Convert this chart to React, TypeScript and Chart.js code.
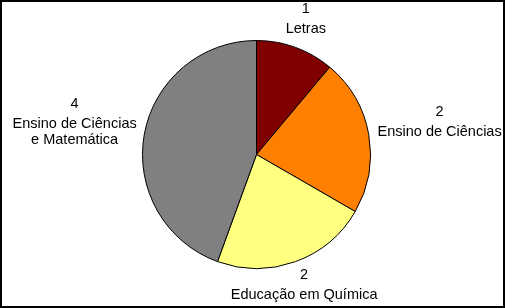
import React, { useEffect, useRef } from "react";
import { Chart, registerables } from "chart.js";

Chart.register(...registerables);

const categories: string[][] = [
  ["Letras"],
  ["Ensino de Ciências"],
  ["Educação em Química"],
  ["Ensino de Ciências", "e Matemática"],
];
const values: number[] = [1, 2, 2, 4];
const colors: string[] = ["#800000", "#FF8000", "#FFFF80", "#808080"];

const FONT = '14.5px "Liberation Sans", Arial, sans-serif';
const GAP = 8;
const VALUE_GAP = 20;
const LINE_H = 16;
const HALF_H = 7;

const labelPlugin = {
  id: "excelLabels",
  afterDatasetsDraw(chart: any) {
    const ctx = chart.ctx as CanvasRenderingContext2D;
    const meta = chart.getDatasetMeta(0);
    ctx.save();
    ctx.font = FONT;
    ctx.fillStyle = "#000";
    ctx.textAlign = "center";
    ctx.textBaseline = "middle";
    meta.data.forEach((arc: any, i: number) => {
      const { x, y, startAngle, endAngle, outerRadius } = arc.getProps(
        ["x", "y", "startAngle", "endAngle", "outerRadius"],
        true
      );
      const mid = (startAngle + endAngle) / 2;
      const dx = Math.cos(mid);
      const dy = Math.sin(mid);
      const lines = [String(values[i]), ...categories[i]];
      const offsets: number[] = [0];
      for (let k = 1; k < lines.length; k++) offsets.push(VALUE_GAP + (k - 1) * LINE_H);
      const total = offsets[offsets.length - 1];
      const rel = offsets.map((o) => o - total / 2);
      const widths = lines.map((l) => ctx.measureText(l).width);
      const target = outerRadius + GAP;
      const dist = (t: number) => {
        const cx = dx * t;
        const cy = dy * t;
        let best = Infinity;
        lines.forEach((_, k) => {
          const a = widths[k] / 2;
          const ly = cy + rel[k];
          const nx = Math.max(cx - a, Math.min(0, cx + a));
          const ny = Math.max(ly - HALF_H, Math.min(0, ly + HALF_H));
          best = Math.min(best, Math.hypot(nx, ny));
        });
        return best;
      };
      let lo = 0;
      let hi = 400;
      for (let it = 0; it < 40; it++) {
        const m = (lo + hi) / 2;
        if (dist(m) < target) lo = m;
        else hi = m;
      }
      const cx = x + dx * hi;
      const cy = y + dy * hi;
      lines.forEach((l, k) => ctx.fillText(l, cx, cy + rel[k]));
    });
    ctx.restore();
  },
};

const framePlugin = {
  id: "frame",
  afterDraw(chart: any) {
    const ctx = chart.ctx as CanvasRenderingContext2D;
    ctx.save();
    ctx.strokeStyle = "#000";
    ctx.lineWidth = 2;
    ctx.strokeRect(1, 1, chart.width - 2, chart.height - 2);
    ctx.restore();
  },
};

export default function App() {
  const ref = useRef<HTMLCanvasElement>(null);
  useEffect(() => {
    if (!ref.current) return;
    const chart = new Chart(ref.current, {
      type: "pie",
      data: {
        labels: categories.map((c) => c.join(" ")),
        datasets: [
          {
            data: values,
            backgroundColor: colors,
            borderColor: "#000",
            borderWidth: 1,
          },
        ],
      },
      options: {
        animation: false,
        responsive: false,
        events: [],
        layout: { padding: { left: 142, right: 134, top: 40, bottom: 39 } },
        plugins: {
          legend: { display: false },
          tooltip: { enabled: false },
          title: { display: false },
        },
      },
      plugins: [labelPlugin, framePlugin],
    });
    return () => chart.destroy();
  }, []);
  return (
    <div style={{ position: "absolute", left: 0, top: 0, width: 505, height: 308, background: "#fff" }}>
      <canvas ref={ref} width={505} height={308} style={{ display: "block" }} />
    </div>
  );
}
